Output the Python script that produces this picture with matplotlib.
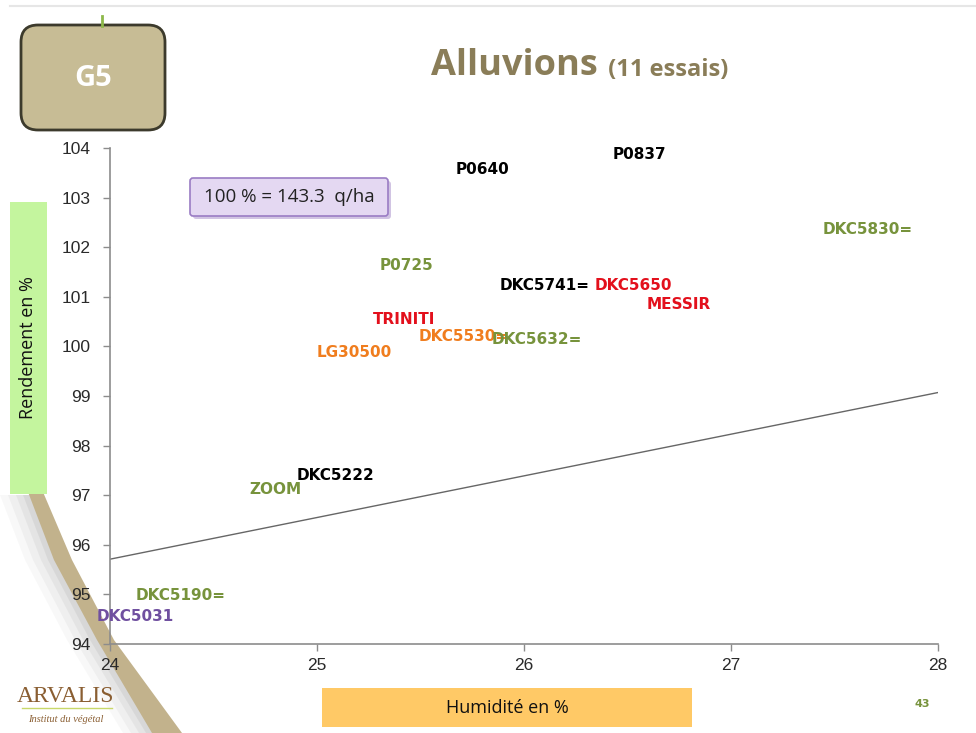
import matplotlib
matplotlib.use("Agg")
import matplotlib.pyplot as plt
from matplotlib.patches import FancyBboxPatch, Rectangle, Polygon
import numpy as np

# ---- data ----
varieties = ["P0640", "P0837", "DKC5830=", "P0725", "DKC5741=", "DKC5650", "MESSIR",
             "TRINITI", "DKC5530=", "DKC5632=", "LG30500", "DKC5222", "ZOOM",
             "DKC5190=", "DKC5031"]
humidity = [25.80, 26.56, 27.66, 25.43, 26.10, 26.53, 26.75,
            25.42, 25.71, 26.06, 25.18, 25.09, 24.80, 24.34, 24.12]
yield_pct = [103.56, 103.86, 102.35, 101.64, 101.22, 101.22, 100.85,
             100.55, 100.19, 100.13, 99.87, 97.39, 97.12, 94.97, 94.56]
groups = ["black", "black", "green", "green", "black", "red", "red",
          "red", "orange", "green", "orange", "black", "green", "green", "purple"]
trend_x = [24, 28]
trend_y = [95.71, 99.07]
x_ticks = [24, 25, 26, 27, 28]
y_ticks = [94, 95, 96, 97, 98, 99, 100, 101, 102, 103, 104]

palette = {"black": "#000000", "green": "#77933C", "red": "#E3101C",
           "orange": "#F07D1E", "purple": "#7050A0"}

W, H = 976, 733
fig = plt.figure(figsize=(W / 100, H / 100), dpi=100)

# background / decoration axes in pixel coordinates
bg = fig.add_axes([0, 0, 1, 1], zorder=0)
bg.set_xlim(0, W)
bg.set_ylim(H, 0)
bg.axis("off")

# top thin line
bg.plot([10, 976], [6, 6], color="#E6E6E6", lw=1.5)

# swoosh shadow + band
for off, a in [(30, 0.05), (22, 0.07), (14, 0.09), (7, 0.12)]:
    bg.add_patch(Polygon([(30 - off, 495), (55 - off, 560), (97 - off, 640), (153 - off, 733),
                          (180, 733), (112, 640), (70, 560), (40, 495)],
                         closed=True, facecolor="#808080", alpha=a, lw=0))
bg.add_patch(Polygon([(28, 492), (54, 560), (97, 640), (152, 733),
                      (182, 733), (114, 640), (72, 560), (43, 492)],
                     closed=True, facecolor="#C2B28C", lw=0))

# y label green rect
bg.add_patch(Rectangle((10, 202), 37, 292, facecolor="#C4F59E", lw=0))
bg.text(28, 348, "Rendement en %", rotation=90, ha="center", va="center",
        fontsize=13, family="Open Sans", color="#111111")

# x label orange rect
bg.add_patch(Rectangle((322, 688), 370, 39, facecolor="#FFC966", lw=0))
bg.text(507, 708, "Humidité en %", ha="center", va="center",
        fontsize=13, family="Open Sans", color="#111111")

# G5 box
bg.plot([102, 102], [16, 26], color="#8DB84A", lw=2)
bg.add_patch(FancyBboxPatch((21, 25), 144, 105, boxstyle="round,pad=0,rounding_size=17",
                            facecolor="#C7BC95", edgecolor="#3C3A2C", lw=2))
bg.text(93, 79, "G5", ha="center", va="center", fontsize=21, fontweight="bold",
        family="Open Sans", color="white")

# title
bg.text(598, 66, "Alluvions", ha="right", va="center", fontsize=26, fontweight="bold",
        family="Open Sans", color="#8A7D58")
bg.text(602, 70, " (11 essais)", ha="left", va="center", fontsize=17, fontweight="bold",
        family="Open Sans", color="#8A7D58")

# ARVALIS logo text
bg.text(66, 697, "ARVALIS", ha="center", va="center", fontsize=17, family="Liberation Serif",
        color="#8A5E32")
bg.plot([22, 112], [708, 708], color="#C8D86A", lw=1)
bg.text(66, 720, "Institut du végétal", ha="center", va="center", fontsize=7.5,
        family="Liberation Serif", style="italic", color="#8A5E32")

# page number
bg.text(922, 704, "43", ha="center", va="center", fontsize=8, fontweight="bold",
        color="#77933C")

# main chart axes
ax = fig.add_axes([110 / W, 1 - 644 / H, (938 - 110) / W, (644 - 148) / H], zorder=1)
ax.set_facecolor("none")
ax.set_xlim(24, 28)
ax.set_ylim(94, 104)
ax.set_xticks(x_ticks)
ax.set_yticks(y_ticks)
ax.set_xticklabels([str(t) for t in x_ticks], family="Liberation Sans", fontsize=12.5, color="#2A2A2A")
ax.set_yticklabels([str(t) for t in y_ticks], family="Liberation Sans", fontsize=12.5, color="#2A2A2A")
for s in ["top", "right"]:
    ax.spines[s].set_visible(False)
for s in ["left", "bottom"]:
    ax.spines[s].set_color("#8C8C8C")
    ax.spines[s].set_linewidth(1.2)
ax.tick_params(axis="both", direction="out", length=5, color="#8C8C8C", width=1)
ax.tick_params(axis="x", pad=5)
ax.tick_params(axis="y", pad=9)

ax.plot(trend_x, trend_y, color="#666666", lw=1)

for name, xv, yv, g in zip(varieties, humidity, yield_pct, groups):
    ax.text(xv, yv, name, ha="center", va="center", fontsize=11, fontweight="bold",
            family="DejaVu Sans", color=palette[g], clip_on=False)

# 100% box
bg.add_patch(FancyBboxPatch((193, 181), 198, 38, boxstyle="round,pad=0,rounding_size=3",
                            facecolor="#A58AC8", edgecolor="none", alpha=0.5, zorder=2))
bg.add_patch(FancyBboxPatch((190, 178), 198, 38, boxstyle="round,pad=0,rounding_size=3",
                            facecolor="#E4D8F2", edgecolor="#9A7CC4", lw=1.2, zorder=3))
bg.text(289, 197, "100 % = 143.3  q/ha", ha="center", va="center", fontsize=13.5,
        family="Open Sans", color="#222222", zorder=4)

fig.savefig("out.png", dpi=100)
